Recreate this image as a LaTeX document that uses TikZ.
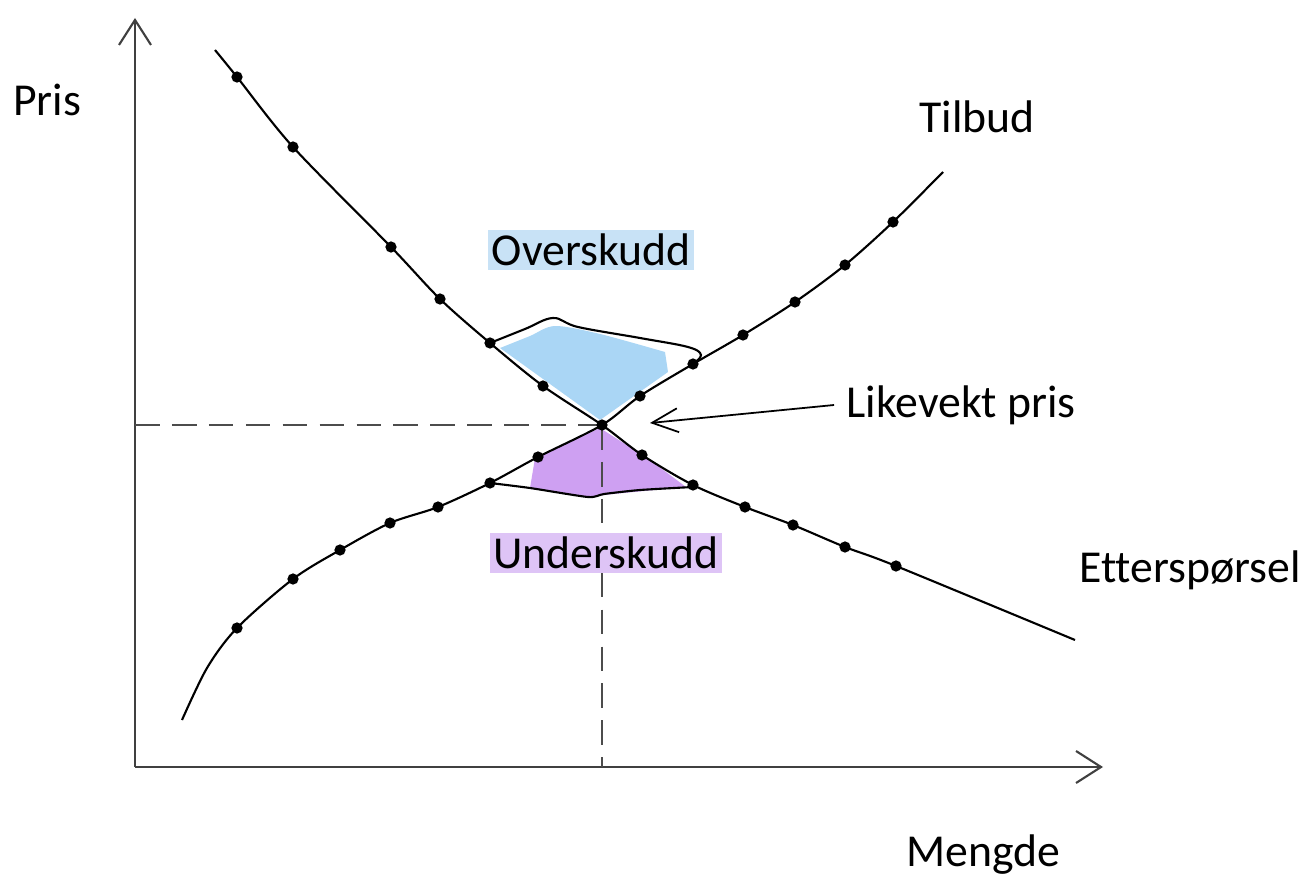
\documentclass[tikz,border=0pt]{standalone}
\usepackage{fontspec}
\setmainfont{Carlito}[Ligatures=NoCommon]
\usetikzlibrary{arrows.meta,positioning}
\definecolor{overblue}{RGB}{170,214,245}
\definecolor{overlabel}{RGB}{200,226,246}
\definecolor{underviolet}{RGB}{206,160,242}
\definecolor{underlabel}{RGB}{222,196,246}
\begin{document}
\begin{tikzpicture}[
    x=0.01cm, y=-0.01cm,
    every node/.style={font=\fontsize{13}{15}\selectfont},
    axis/.style={line width=0.6pt,draw=black!75,-{Straight Barb[length=2.5mm,width=3.2mm]}},
    curve/.style={line width=0.6pt},
    guide/.style={line width=0.5pt,draw=black!70,dash pattern=on 7pt off 3.5pt},
    dot/.style={circle,fill=black,inner sep=0pt,minimum size=3.2pt},
    tag/.style={inner sep=1pt},
    arrow/.style={line width=0.5pt,-{Straight Barb[length=2.6mm,width=2.4mm]}}
]
\useasboundingbox (0,0) rectangle (1309,882);
\fill[overblue] plot[smooth] coordinates {(500,348)(530,336)(555,326)(600,334)(665,352)}
    -- (668,372) -- (600,420) -- cycle;
\fill[underviolet] (535,458) -- (600,428) -- (650,460) -- (686,487)
    -- (603,495) -- (587,497) -- (530,488) -- cycle;
\coordinate (origin) at (135,767);
\coordinate (eq) at (602,425);
\draw[axis] (origin) -- (135,18);
\draw[axis] (origin) -- (1103,767);
\draw[guide] (135,425) -- (eq);
\draw[guide] (eq) -- (602,767);
\draw[curve] plot[smooth,tension=0.5] coordinates {(215,50)(237,77)(293,147)(391,247)(440,299)(490,343)(543,386)(602,425)(642,455)(693,485)(745,507)(793,525)(845,547)(896,566)(1075,640)};
\draw[curve] plot[smooth,tension=0.5] coordinates {(182,720)(207,668)(237,628)(293,579)(340,550)(390,523)(438,507)(490,483)(538,457)(602,425)(640,396)(693,364)(743,335)(795,302)(845,265)(893,222)(943,172)};
\foreach \p in {(237,77),(293,147),(391,247),(440,299),(490,343),(543,386),(642,455),(693,485),(745,507),(793,525),(845,547),(896,566),(237,628),(293,579),(340,550),(390,523),(438,507),(490,483),(538,457),(640,396),(693,364),(743,335),(795,302),(845,265),(893,222),(602,425)}
    \node[dot] at \p {};
\draw[curve] plot[smooth,tension=0.6] coordinates {(490,343)(525,329)(553,318)(578,327)(640,338)(688,347)(701,355)(693,364)};
\draw[curve] plot[smooth,tension=0.4] coordinates {(490,483)(530,488)(588,497)(604,494)(640,490)(693,487)};
\node (pris) at (47,100) {Pris};
\node (tilbud) at (977,117) {Tilbud};
\node[tag,fill=overlabel] (over) at (591,250) {Overskudd};
\node[tag,fill=underlabel] (under) at (606,553) {Underskudd};
\node (likevekt) at (961,405) {Likevekt pris};
\node (ettersp) at (1190,570) {Etterspørsel};
\node (mengde) at (983,855) {Mengde};
\coordinate (eqtip) at (650,423);
\draw[arrow] (likevekt.west) -- (eqtip);
\end{tikzpicture}
\end{document}
